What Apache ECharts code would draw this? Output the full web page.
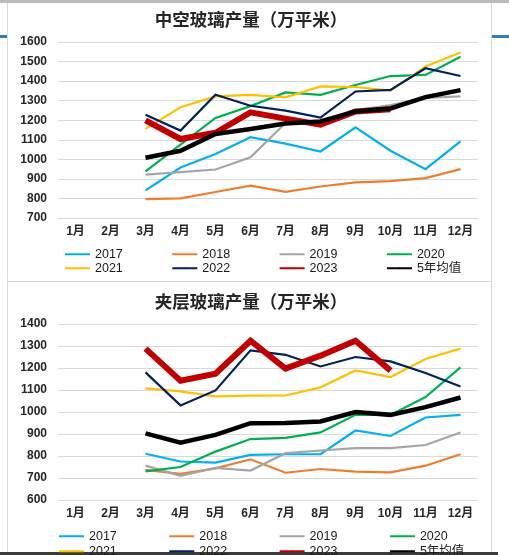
<!DOCTYPE html>
<html>
<head>
<meta charset="utf-8">
<script src="https://cdn.jsdelivr.net/npm/echarts@6/dist/echarts.min.js"></script>
<style>
html,body{margin:0;padding:0;background:#fff;}
#c{width:509px;height:555px;}
</style>
</head>
<body>
<div id="c"></div>
<script>
const months = ['1月','2月','3月','4月','5月','6月','7月','8月','9月','10月','11月','12月'];
const seriesNames = ['2017','2018','2019','2020','2021','2022','2023','5年均值'];

const title1 = '中空玻璃产量（万平米）';
const title2 = '夹层玻璃产量（万平米）';

// 中空玻璃产量
const hollow2017 = [null,null,841,958,1027,1113,1080,1040,1164,1044,950,1092];
const hollow2018 = [null,null,797,800,833,865,834,861,882,889,904,950];
const hollow2019 = [null,null,922,935,948,1011,1186,1195,1250,1277,1314,1322];
const hollow2020 = [null,null,938,1075,1212,1272,1342,1330,1380,1426,1432,1525];
const hollow2021 = [null,null,1156,1266,1322,1330,1317,1373,1370,1351,1475,1546];
const hollow2022 = [null,null,1228,1147,1330,1274,1249,1213,1347,1355,1466,1426];
const hollow2023 = [null,null,1199,1104,1136,1240,1208,1177,1245,1256,null,null];
const hollowAvg  = [null,null,1008,1044,1130,1155,1183,1194,1245,1260,1318,1354];

// 夹层玻璃产量
const lam2017 = [null,null,810,775,770,805,808,808,916,891,975,987];
const lam2018 = [null,null,737,719,744,785,724,741,729,726,756,808];
const lam2019 = [null,null,756,710,746,734,813,825,836,836,850,907];
const lam2020 = [null,null,730,750,820,877,882,907,987,987,1068,1203];
const lam2021 = [null,null,1107,1094,1071,1074,1075,1112,1189,1159,1241,1288];
const lam2022 = [null,null,1180,1030,1098,1280,1260,1207,1250,1230,1177,1116];
const lam2023 = [null,null,1288,1142,1174,1324,1197,1256,1324,1188,null,null];
const lamAvg  = [null,null,903,861,896,949,950,957,1000,987,1022,1066];

const hollowData = [hollow2017,hollow2018,hollow2019,hollow2020,hollow2021,hollow2022,hollow2023,hollowAvg];
const lamData = [lam2017,lam2018,lam2019,lam2020,lam2021,lam2022,lam2023,lamAvg];

const colors = ['#00B0F0','#ED7D31','#A5A5A5','#00B050','#FFC000','#002060','#C00000','#000000'];
const widths = [2.2,2.2,2.2,2.2,2.2,2.2,6,4.5];

const FONT = '"Liberation Sans", Arial, "Noto Sans CJK SC", sans-serif';

function makeSeries(dataSets, gi){
  return dataSets.map((d,i)=>({
    name: seriesNames[i],
    type: 'line',
    xAxisIndex: gi, yAxisIndex: gi,
    data: d,
    symbol: 'circle',
    showSymbol: false,
    connectNulls: false,
    lineStyle: {color: colors[i], width: widths[i], join: 'miter'},
    itemStyle: {color: colors[i]},
    z: 2 + i,
    animation: false,
    emphasis: {disabled: true}
  }));
}

function xAxis(gi){
  return {
    type: 'category', gridIndex: gi, data: months, boundaryGap: true,
    axisLine: {show: true, lineStyle: {color: '#D9D9D9', width: 1}},
    axisTick: {show: false},
    axisLabel: {color: '#262626', fontSize: 12, fontWeight: 'bold', fontFamily: FONT, margin: 8, interval: 0}
  };
}
function yAxis(gi, min, max){
  return {
    type: 'value', gridIndex: gi, min: min, max: max, interval: 100,
    axisLine: {show: false}, axisTick: {show: false},
    splitLine: {lineStyle: {color: '#D9D9D9', width: 1}},
    axisLabel: {color: '#262626', fontSize: 12, fontWeight: 'bold', fontFamily: FONT, margin: 11,
      formatter: function(v){ return String(v); }}
  };
}
function legend(names, left, top, gap){
  return {
    show: true,
    data: names,
    left: left, top: top,
    orient: 'horizontal',
    itemWidth: 25, itemHeight: 2, itemGap: gap,
    padding: 0,
    textStyle: {color: '#1a1a1a', fontSize: 12.5, fontFamily: FONT},
    selectedMode: false
  };
}

const row1 = seriesNames.slice(0,4);
const row2 = seriesNames.slice(4);

const chart = echarts.init(document.getElementById('c'), null, {renderer: 'canvas'});
const series = makeSeries(hollowData, 0).concat(makeSeries(lamData, 1));
chart.setOption({
  animation: false,
  backgroundColor: '#ffffff',
  title: [
    {text: title1, left: 246, top: 7, textAlign: 'center', textStyle: {fontSize: 17.5, fontWeight: 'bold', color: '#262626', fontFamily: FONT}},
    {text: title2, left: 246, top: 289, textAlign: 'center', textStyle: {fontSize: 17.5, fontWeight: 'bold', color: '#262626', fontFamily: FONT}}
  ],
  grid: [
    {left: 58, top: 42, width: 420, height: 176, containLabel: false},
    {left: 58, top: 324, width: 420, height: 176, containLabel: false}
  ],
  xAxis: [xAxis(0), xAxis(1)],
  yAxis: [yAxis(0, 700, 1600), yAxis(1, 600, 1400)],
  legend: [
    legend(row1, 64, 248, 48.5),
    legend(row2, 64, 262, 48.5),
    legend(row1, 58, 530, 51.5),
    legend(row2, 58, 545, 51.5)
  ],
  series: series,
  graphic: [
    {type: 'rect', shape: {x: 0, y: 0, width: 509, height: 3}, style: {fill: '#BDBDBD'}, silent: true},
    {type: 'line', shape: {x1: 7.5, y1: 3, x2: 7.5, y2: 552}, style: {stroke: '#D9D9D9', lineWidth: 1}, silent: true},
    {type: 'line', shape: {x1: 491.5, y1: 3, x2: 491.5, y2: 552}, style: {stroke: '#D9D9D9', lineWidth: 1}, silent: true},
    {type: 'line', shape: {x1: 7, y1: 281.5, x2: 491, y2: 281.5}, style: {stroke: '#D9D9D9', lineWidth: 1}, silent: true},
    {type: 'rect', shape: {x: 0, y: 35, width: 7, height: 3}, style: {fill: '#2E7CC4'}, silent: true},
    {type: 'rect', shape: {x: 492, y: 35, width: 17, height: 3}, style: {fill: '#2E7CC4'}, silent: true},
    {type: 'rect', shape: {x: 0, y: 552, width: 498, height: 3}, style: {fill: '#3A3A3A'}, silent: true}
  ]
});
</script>
</body>
</html>
